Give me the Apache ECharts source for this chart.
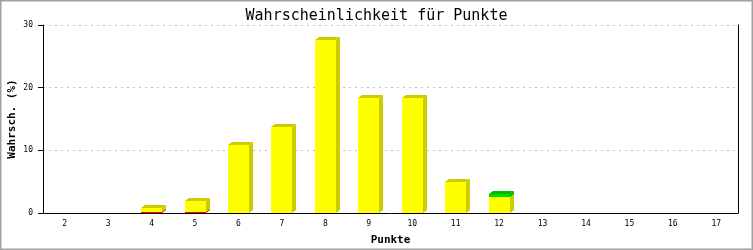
<!DOCTYPE html>
<html><head><meta charset="utf-8">
<script src="https://cdn.jsdelivr.net/npm/echarts@6/dist/echarts.min.js"></script>
<style>html,body{margin:0;padding:0;background:#fff}#c{width:753px;height:250px}</style>
</head><body><div id="c"></div>
<script>
var categories = ['2','3','4','5','6','7','8','9','10','11','12','13','14','15','16','17'];
var redValues    = [0,0,0.2,0.2,0,0,0,0,0,0,0,0,0,0,0,0];
var yellowValues = [0,0,0.6,1.7,10.8,13.7,27.6,18.3,18.3,4.9,2.6,0,0,0,0,0];
var greenValues  = [0,0,0,0,0,0,0,0,0,0,0.5,0,0,0,0,0];
var yTicks = [0,10,20,30];

var mono = 'DejaVu Sans Mono';
var chart = echarts.init(document.getElementById('c'), null, {renderer:'canvas'});

function buildData(vals, below){
  var out = [];
  for (var i=0;i<vals.length;i++){
    var base = 0;
    below.forEach(function(b){ base += b[i]; });
    out.push([i, base, base + vals[i], vals[i]]);
  }
  return out;
}
function box(front, side){
  return function(params, api){
    var v = api.value(3);
    if (!v) return null;
    var idx = api.value(0);
    var p0 = api.coord([idx, api.value(1)]);
    var p1 = api.coord([idx, api.value(2)]);
    var w = Math.round(api.size([1,0])[0]*0.48);
    var x0 = Math.round(p0[0] - w/2), x1 = x0 + w;
    var yb = Math.round(p0[1]), yt = Math.round(p1[1]);
    var dx = 4, dy = 3;
    return {type:'group', children:[
      {type:'polygon', shape:{points:[[x1,yb],[x1+dx,yb-dy],[x1+dx,yt-dy],[x1,yt]]}, style:{fill:side}},
      {type:'polygon', shape:{points:[[x0,yt],[x1,yt],[x1+dx,yt-dy],[x0+dx,yt-dy]]}, style:{fill:side}},
      {type:'rect', shape:{x:x0, y:yt, width:w, height:yb-yt}, style:{fill:front}}
    ]};
  };
}

chart.setOption({
  animation:false,
  backgroundColor:'#fff',
  title:{text:'Wahrscheinlichkeit für Punkte', left:'center', top:4,
    textStyle:{fontFamily:mono, fontSize:15, fontWeight:'normal', color:'#000'}},
  grid:{left:43, right:15, top:25, bottom:37, outerBoundsMode:'none', containLabel:false},
  xAxis:{type:'category', data:categories, boundaryGap:true,
    name:'Punkte', nameLocation:'middle', nameGap:22, nameMoveOverlap:false,
    nameTextStyle:{fontFamily:mono, fontSize:11, fontWeight:'bold', color:'#000'},
    axisLine:{lineStyle:{color:'#000', width:1}}, axisTick:{show:false},
    axisLabel:{fontFamily:mono, fontSize:8, color:'#000', margin:7}},
  yAxis:[{type:'value', min:0, max:30, interval:10,
    name:'Wahrsch. (%)', nameLocation:'middle', nameGap:25, nameRotate:90, nameMoveOverlap:false,
    nameTextStyle:{fontFamily:mono, fontSize:11, fontWeight:'bold', color:'#000'},
    axisLine:{show:true, lineStyle:{color:'#000', width:1}},
    axisTick:{show:true, length:5, lineStyle:{color:'#000'}},
    axisLabel:{fontFamily:mono, fontSize:8, color:'#000', margin:10,
      formatter:function(v){ return yTicks.indexOf(v)>=0 ? String(v) : ''; }},
    splitLine:{show:true, lineStyle:{color:'#c0c0c0', type:[2,4], width:1}}},
   {type:'value', min:0, max:30, interval:10, position:'right',
    axisLine:{show:true, lineStyle:{color:'#000', width:1}},
    axisTick:{show:false}, axisLabel:{show:false}, splitLine:{show:false}}],
  graphic:[{type:'rect', shape:{x:0.5,y:0.5,width:752,height:249},
    style:{fill:null, stroke:'#a0a0a0', lineWidth:2}, z:100}],
  series:[
    {type:'custom', renderItem:box('#ff0000','#cc0000'), data:buildData(redValues, []), encode:{x:0,y:[1,2]}},
    {type:'custom', renderItem:box('#ffff00','#cccc00'), data:buildData(yellowValues, [redValues]), encode:{x:0,y:[1,2]}},
    {type:'custom', renderItem:box('#00dd00','#00bb00'), data:buildData(greenValues, [redValues, yellowValues]), encode:{x:0,y:[1,2]}}
  ]
});
</script></body></html>
